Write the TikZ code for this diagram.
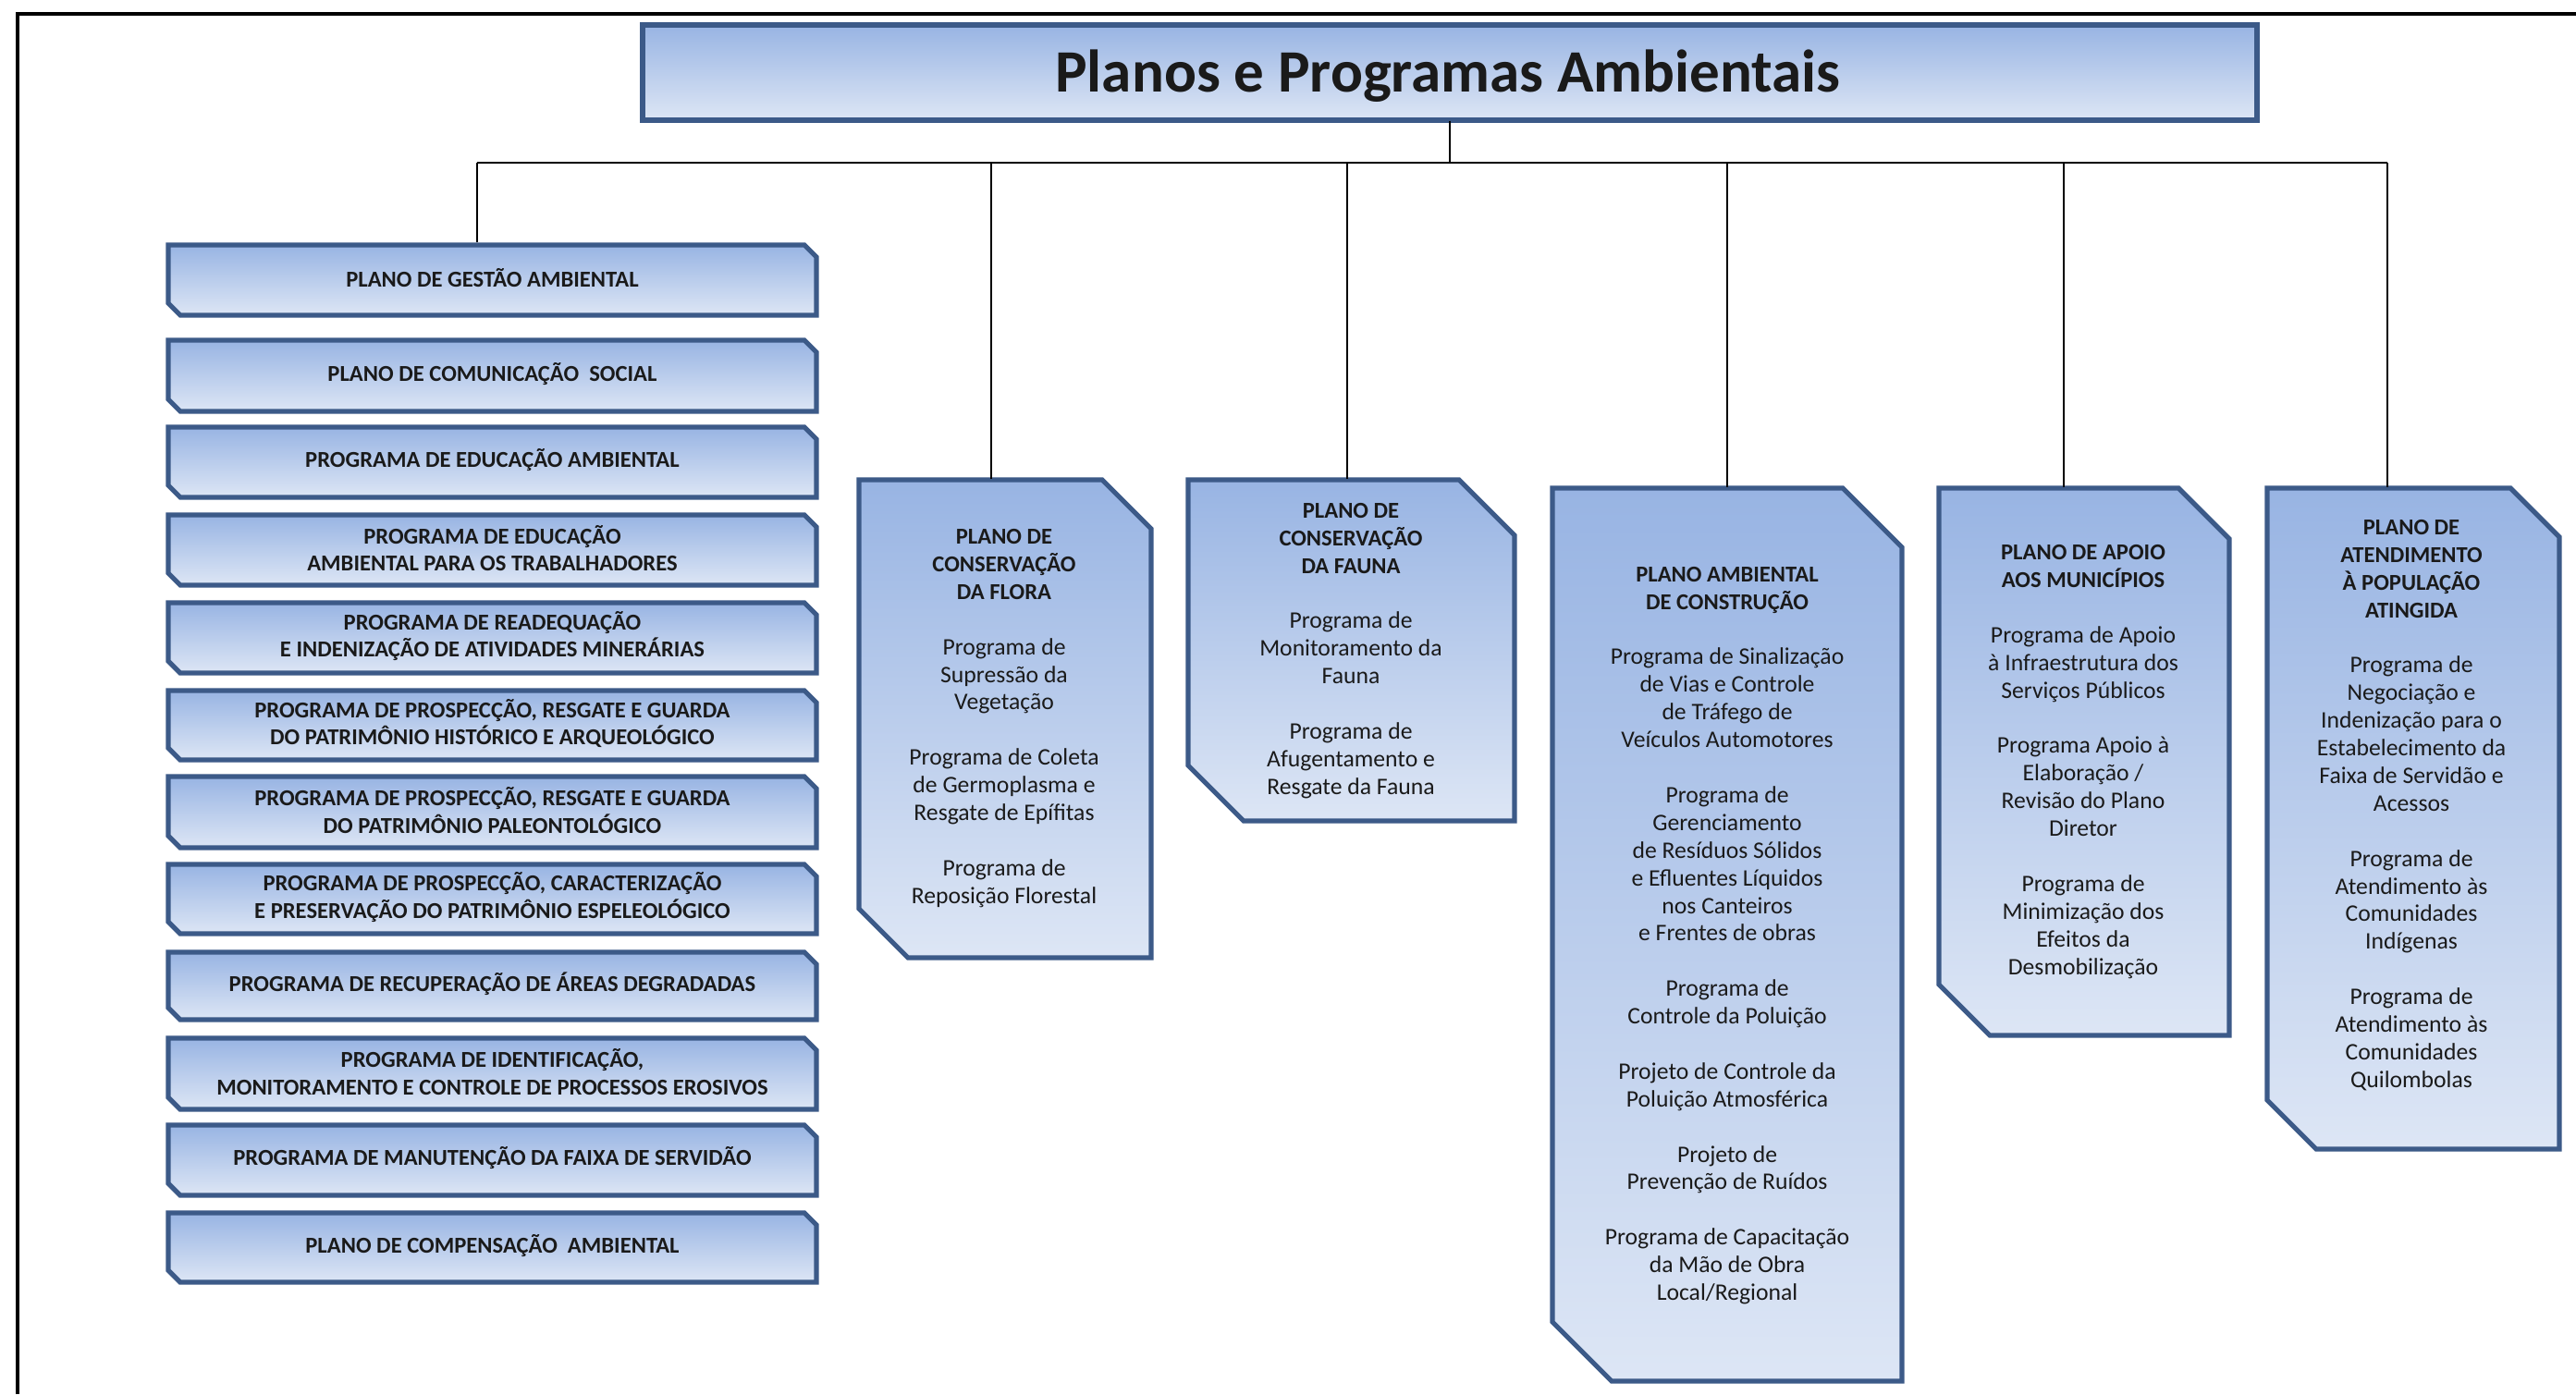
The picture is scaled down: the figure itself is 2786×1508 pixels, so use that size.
\documentclass[tikz,border=0pt]{standalone}
\usepackage{fontspec}
\setmainfont{Carlito}
\usetikzlibrary{calc}
\definecolor{bord}{HTML}{3C5A88}
\definecolor{ftop}{HTML}{98B4E3}
\definecolor{fbot}{HTML}{DDE6F5}
\definecolor{txt}{HTML}{1A1A1A}
\tikzset{
  boxfill/.style={draw=bord, line width=1.5pt, top color=ftop, bottom color=fbot, line join=miter},
  lefttext/.style={font=\fontsize{7}{8.5}\selectfont\bfseries, align=center, text=txt, inner sep=0pt},
  righttext/.style={font=\fontsize{7.3}{8.5}\selectfont, align=center, text=txt, inner sep=0pt},
  conn/.style={draw=black, line width=0.55pt},
  frameline/.style={draw=black, line width=0.9pt},
}
\newcommand{\hd}[1]{{\fontsize{7}{8.5}\selectfont\bfseries #1}}
\newcommand{\lbox}[4]{%
  \path[boxfill] (182,#2) -- (870,#2) -- (883,#2+13) -- (883,#3) -- (195,#3) -- (182,#3-13) -- cycle;
  \node[lefttext, minimum width=7.01cm, minimum height={(#3-#2)*0.01cm}] (#1) at (532.5,{(#2+#3)/2-2}) {#4};
}
\newcommand{\rbox}[6]{%
  \path[boxfill] (#2,#3) -- (#4-#6,#3) -- (#4,#3+#6) -- (#4,#5) -- (#2+#6,#5) -- (#2,#5-#6) -- cycle;
  \node[inner sep=0pt, minimum width={(#4-#2)*0.01cm}, minimum height={(#5-#3)*0.01cm}] (#1) at ({(#2+#4)/2},{(#3+#5)/2}) {};
}
\begin{document}
\begin{tikzpicture}[x=0.01cm, y=-0.01cm]
\useasboundingbox (0,0) rectangle (2786,1508);
\fill[white] (0,0) rectangle (2786,1508);
% frame
\coordinate (frBL) at (19,1508);
\coordinate (frTL) at (19,15);
\coordinate (frTR) at (2786,15);
\draw[frameline] (frBL) -- (frTL) -- (frTR);

% title
\path[draw=bord, line width=1.5pt, top color=ftop, bottom color=fbot] (695,27) rectangle (2441,130);
\node[inner sep=0pt, minimum width=17.46cm, minimum height=1.03cm, font=\fontsize{18.5}{22}\selectfont\bfseries, text=txt] (title) at (1568,78.5) {};
\node[inner sep=0pt, font=\fontsize{18.5}{22}\selectfont\bfseries, text=txt] (titleT) at (1566,82) {Planos e Programas Ambientais};

% left column
\lbox{gestao}{265}{341}{PLANO DE GESTÃO AMBIENTAL}
\lbox{comunic}{368}{445}{PLANO DE COMUNICAÇÃO\ \ SOCIAL}
\lbox{educ}{462}{538}{PROGRAMA DE EDUCAÇÃO AMBIENTAL}
\lbox{trab}{557}{633}{PROGRAMA DE EDUCAÇÃO\\AMBIENTAL PARA OS TRABALHADORES}
\lbox{readeq}{652}{728}{PROGRAMA DE READEQUAÇÃO\\E INDENIZAÇÃO DE ATIVIDADES MINERÁRIAS}
\lbox{hist}{747}{822}{PROGRAMA DE PROSPECÇÃO, RESGATE E GUARDA\\DO PATRIMÔNIO HISTÓRICO E ARQUEOLÓGICO}
\lbox{paleo}{840}{917}{PROGRAMA DE PROSPECÇÃO, RESGATE E GUARDA\\DO PATRIMÔNIO PALEONTOLÓGICO}
\lbox{espeleo}{935}{1010}{PROGRAMA DE PROSPECÇÃO, CARACTERIZAÇÃO\\E PRESERVAÇÃO DO PATRIMÔNIO ESPELEOLÓGICO}
\lbox{recup}{1030}{1103}{PROGRAMA DE RECUPERAÇÃO DE ÁREAS DEGRADADAS}
\lbox{erosivo}{1123}{1200}{PROGRAMA DE IDENTIFICAÇÃO,\\MONITORAMENTO E CONTROLE DE PROCESSOS EROSIVOS}
\lbox{faixa}{1217}{1293}{PROGRAMA DE MANUTENÇÃO DA FAIXA DE SERVIDÃO}
\lbox{compens}{1312}{1387}{PLANO DE COMPENSAÇÃO\ \ AMBIENTAL}

% right boxes
\rbox{flora}{929}{519}{1245}{1036}{53}
\rbox{fauna}{1285}{519}{1638}{888}{60}
\rbox{constr}{1679}{528}{2057}{1494}{64}
\rbox{apoio}{2097}{528}{2411}{1120}{55}
\rbox{atend}{2452}{528}{2768}{1243}{53}

\node[righttext] (floraT) at (1086,777) {\hd{PLANO DE}\\\hd{CONSERVAÇÃO}\\\hd{DA FLORA}\\[8.5pt]Programa de\\Supressão da\\Vegetação\\[8.5pt]Programa de Coleta\\de Germoplasma e\\Resgate de Epífitas\\[8.5pt]Programa de\\Reposição Florestal};
\node[righttext] (faunaT) at (1461,704) {\hd{PLANO DE}\\\hd{CONSERVAÇÃO}\\\hd{DA FAUNA}\\[8.5pt]Programa de\\Monitoramento da\\Fauna\\[8.5pt]Programa de\\Afugentamento e\\Resgate da Fauna};
\node[righttext] (constrT) at (1868,1012) {\hd{PLANO AMBIENTAL}\\\hd{DE CONSTRUÇÃO}\\[8.5pt]Programa de Sinalização\\de Vias e Controle\\de Tráfego de\\Veículos Automotores\\[8.5pt]Programa de\\Gerenciamento\\de Resíduos Sólidos\\e Efluentes Líquidos\\nos Canteiros\\e Frentes de obras\\[8.5pt]Programa de\\Controle da Poluição\\[8.5pt]Projeto de Controle da\\Poluição Atmosférica\\[8.5pt]Projeto de\\Prevenção de Ruídos\\[8.5pt]Programa de Capacitação\\da Mão de Obra\\Local/Regional};
\node[righttext] (apoioT) at (2253,824) {\hd{PLANO DE APOIO}\\\hd{AOS MUNICÍPIOS}\\[8.5pt]Programa de Apoio\\à Infraestrutura dos\\Serviços Públicos\\[8.5pt]Programa Apoio à\\Elaboração /\\Revisão do Plano\\Diretor\\[8.5pt]Programa de\\Minimização dos\\Efeitos da\\Desmobilização};
\node[righttext] (atendT) at (2608,871) {\hd{PLANO DE}\\\hd{ATENDIMENTO}\\\hd{À POPULAÇÃO}\\\hd{ATINGIDA}\\[8.5pt]Programa de\\Negociação e\\Indenização para o\\Estabelecimento da\\Faixa de Servidão e\\Acessos\\[8.5pt]Programa de\\Atendimento às\\Comunidades\\Indígenas\\[8.5pt]Programa de\\Atendimento às\\Comunidades\\Quilombolas};

% connectors
\coordinate (bus0) at (1568,176);
\coordinate (bG) at (516,176);
\coordinate (bF) at (1072,176);
\coordinate (bA) at (1457,176);
\coordinate (bC) at (1868,176);
\coordinate (bP) at (2232,176);
\coordinate (bT) at (2582,176);
\draw[conn] (title.south) -- (bus0);
\draw[conn] (bG) -- (bT);
\draw[conn] (bG) -- (bG |- gestao.north);
\draw[conn] (bF) -- (bF |- flora.north);
\draw[conn] (bA) -- (bA |- fauna.north);
\draw[conn] (bC) -- (bC |- constr.north);
\draw[conn] (bP) -- (bP |- apoio.north);
\draw[conn] (bT) -- (bT |- atend.north);
\end{tikzpicture}
\end{document}
